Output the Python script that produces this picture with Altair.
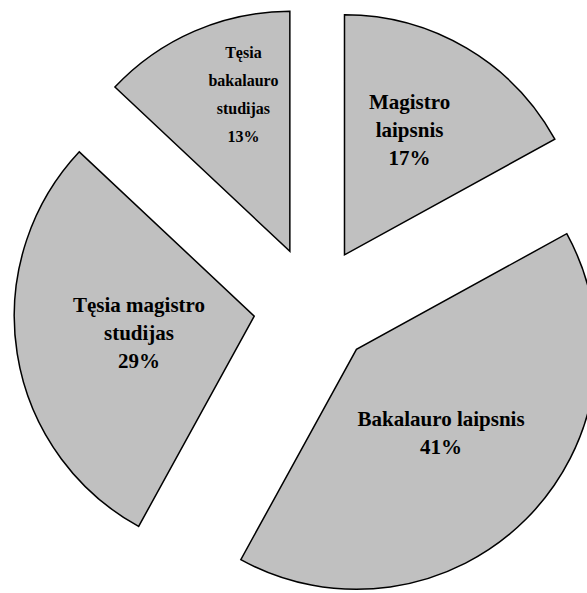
import altair as alt
import pandas as pd

# ---- data ----
categories = ["Magistro\nlaipsnis", "Bakalauro laipsnis", "Tęsia magistro\nstudijas", "Tęsia\nbakalauro\nstudijas"]
values = [17, 41, 29, 13]

# ---- layout (styles, not data) ----
CX, CY = 313.8, 306.7      # pie centre in pixels
EXPLODE = 60.3             # explosion distance of every slice
RADIUS = 240
LINE_H = 28
label_dist = [200, 180, 177, 223]     # distance of label block from pie centre
label_turn = [-2, 0, 0, 5]            # small angular nudge of label (degrees)
label_size = [21, 21, 21, 16]

df = pd.DataFrame({
    "category": categories,
    "value": values,
    "order": list(range(len(values))),
    "ldist": label_dist,
    "lturn": label_turn,
    "fsize": label_size,
})

base = alt.Chart(df).transform_joinaggregate(
    total="sum(value)"
).transform_window(
    cum="sum(value)", sort=[alt.SortField("order")], frame=[None, 0]
).transform_calculate(
    start="2*PI*(datum.cum - datum.value)/datum.total",
    end="2*PI*datum.cum/datum.total",
    label="datum.category + '\\n' + datum.value + '%'",
).transform_calculate(
    mid="(datum.start + datum.end)/2",
    nlines="length(split(datum.label, '\\n'))",
).transform_calculate(
    lang="datum.mid + datum.lturn*PI/180",
    px=f"{CX} + {EXPLODE}*sin(datum.mid)",
    py=f"{CY} - {EXPLODE}*cos(datum.mid)",
).transform_calculate(
    lx=f"{CX} + datum.ldist*sin(datum.lang)",
    ly=f"{CY} - datum.ldist*cos(datum.lang) - (datum.nlines - 1)*{LINE_H}/2",
)

arcs = base.mark_arc(
    outerRadius=RADIUS, fill="#C0C0C0", stroke="black", strokeWidth=1.5, strokeJoin="miter"
).encode(
    theta=alt.Theta("start:Q", scale=None),
    theta2=alt.Theta2("end:Q"),
    x=alt.X("px:Q", scale=None, axis=None),
    y=alt.Y("py:Q", scale=None, axis=None),
)

labels = base.mark_text(
    font="Liberation Serif", fontWeight="bold", color="black",
    lineBreak="\n", lineHeight=LINE_H, align="center", baseline="middle",
).encode(
    x=alt.X("lx:Q", scale=None, axis=None),
    y=alt.Y("ly:Q", scale=None, axis=None),
    text=alt.Text("label:N"),
    size=alt.Size("fsize:Q", scale=None, legend=None),
)

chart = alt.layer(arcs, labels).properties(
    width=587, height=593, autosize="none", padding=0
).configure_view(stroke=None)

chart.save("out.html", embed_options={"renderer": "svg", "actions": False})
